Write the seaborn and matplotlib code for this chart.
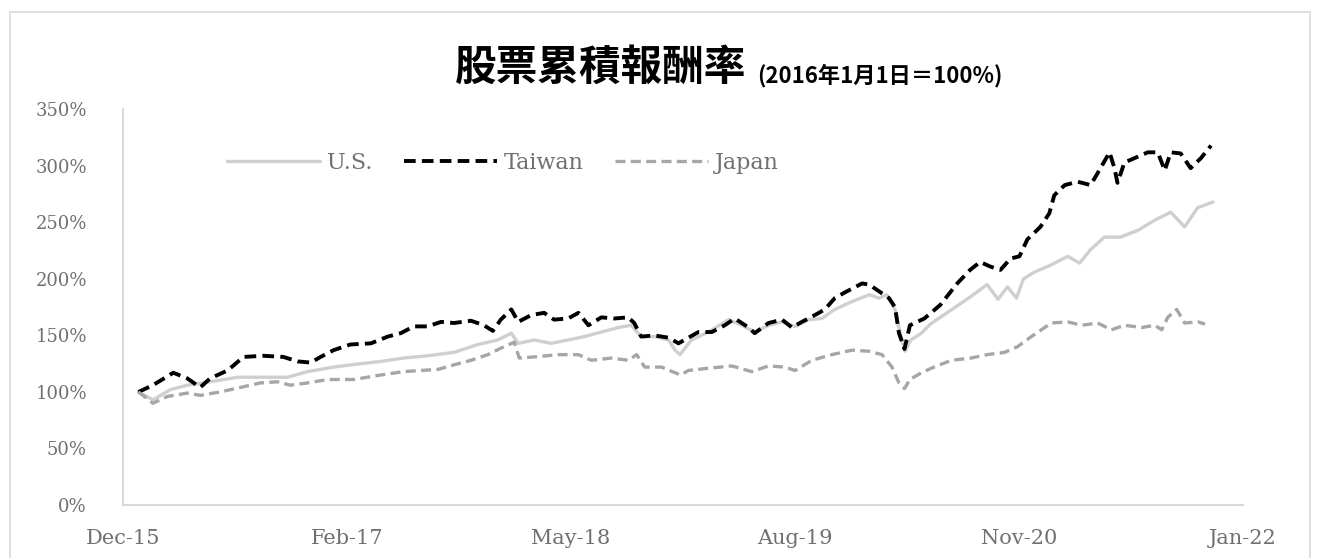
import pandas as pd
import numpy as np
import matplotlib.pyplot as plt
import matplotlib.patches as patches
import seaborn as sns

sns.set_theme(style="white")
plt.rcParams['font.family'] = ['DejaVu Serif', 'Noto Sans CJK TC']

# cumulative return, 2016-01-01 = 100%
us_dates = ["2016-01-01", "2016-01-30", "2016-03-05", "2016-04-08", "2016-05-24", "2016-07-18",
            "2016-09-02", "2016-10-26", "2016-12-06", "2017-01-27", "2017-03-22", "2017-05-02",
            "2017-06-17", "2017-08-04", "2017-09-26", "2017-11-13", "2017-12-23", "2018-01-19",
            "2018-02-02", "2018-03-06", "2018-04-09", "2018-05-13", "2018-06-15", "2018-07-19",
            "2018-08-22", "2018-09-17", "2018-10-07", "2018-11-03", "2018-12-01", "2018-12-14",
            "2018-12-24", "2019-01-16", "2019-02-19", "2019-04-01", "2019-04-27", "2019-05-23",
            "2019-06-20", "2019-07-17", "2019-08-12", "2019-09-09", "2019-10-05", "2019-10-31",
            "2019-12-05", "2020-01-08", "2020-01-28", "2020-02-12", "2020-02-29", "2020-03-06",
            "2020-03-20", "2020-04-01", "2020-04-22", "2020-05-10", "2020-06-19", "2020-07-29",
            "2020-09-01", "2020-09-23", "2020-10-12", "2020-10-30", "2020-11-13", "2020-12-05",
            "2021-01-06", "2021-02-10", "2021-03-06", "2021-03-28", "2021-04-25", "2021-05-27",
            "2021-07-01", "2021-08-04", "2021-09-05", "2021-10-03", "2021-10-29", "2021-11-29"]
us_values = [100, 93, 102, 106, 109, 113,
             113, 113, 118, 122, 125, 127,
             130, 132, 135, 142, 146, 152,
             143, 146, 143, 146, 149, 153,
             157, 159, 149, 149, 146, 137,
             133, 146, 153, 164, 159, 153,
             159, 162, 158, 164, 165, 173,
             180, 186, 183, 186, 173, 160,
             136, 146, 152, 160, 172, 184,
             195, 182, 193, 183, 200, 206,
             212, 220, 214, 226, 237, 237,
             243, 252, 259, 246, 263, 268]

tw_dates = ["2016-01-01", "2016-01-30", "2016-03-11", "2016-04-08", "2016-05-04", "2016-05-24",
            "2016-06-28", "2016-07-30", "2016-09-08", "2016-10-18", "2016-11-16", "2016-12-12",
            "2017-01-01", "2017-01-27", "2017-03-02", "2017-04-12", "2017-05-16", "2017-06-11",
            "2017-07-07", "2017-08-04", "2017-08-31", "2017-09-26", "2017-10-30", "2017-11-25",
            "2017-12-13", "2017-12-29", "2018-01-19", "2018-02-02", "2018-02-28", "2018-03-26",
            "2018-04-15", "2018-05-13", "2018-06-03", "2018-06-23", "2018-07-19", "2018-08-14",
            "2018-09-11", "2018-09-23", "2018-10-07", "2018-11-03", "2018-12-01", "2018-12-21",
            "2019-01-06", "2019-01-30", "2019-02-26", "2019-03-24", "2019-04-13", "2019-05-11",
            "2019-05-23", "2019-06-20", "2019-07-17", "2019-08-06", "2019-08-26", "2019-09-21",
            "2019-10-11", "2019-10-31", "2019-11-20", "2019-12-25", "2020-01-08", "2020-01-28",
            "2020-02-17", "2020-02-29", "2020-03-08", "2020-03-19", "2020-03-30", "2020-04-28",
            "2020-05-30", "2020-07-03", "2020-07-29", "2020-08-18", "2020-09-07", "2020-09-28",
            "2020-10-18", "2020-11-05", "2020-11-21", "2020-12-17", "2021-01-04", "2021-01-14",
            "2021-02-04", "2021-03-02", "2021-03-28", "2021-04-17", "2021-05-05", "2021-05-15",
            "2021-05-21", "2021-06-04", "2021-06-25", "2021-07-21", "2021-08-10", "2021-08-24",
            "2021-09-05", "2021-09-25", "2021-10-15", "2021-11-05", "2021-11-25"]
tw_values = [100, 106, 117, 112, 104, 112,
             119, 131, 132, 131, 127, 126,
             131, 137, 142, 143, 149, 152,
             158, 158, 162, 161, 163, 159,
             154, 164, 173, 162, 168, 170,
             164, 165, 170, 159, 166, 165,
             166, 161, 149, 150, 148, 143,
             147, 153, 153, 159, 165, 157,
             152, 161, 164, 157, 162, 168,
             173, 183, 188, 196, 195, 189,
             183, 175, 152, 138, 159, 165,
             177, 196, 208, 215, 211, 208,
             218, 220, 235, 246, 258, 274,
             283, 286, 283, 298, 312, 298,
             285, 303, 307, 312, 312, 296,
             312, 311, 298, 307, 318]

jp_dates = ["2016-01-01", "2016-01-30", "2016-02-28", "2016-04-08", "2016-05-04", "2016-06-13",
            "2016-07-24", "2016-09-02", "2016-10-06", "2016-11-01", "2016-12-06", "2017-01-15",
            "2017-03-08", "2017-05-02", "2017-06-17", "2017-07-21", "2017-08-25", "2017-09-26",
            "2017-10-30", "2017-12-03", "2018-01-04", "2018-01-25", "2018-02-04", "2018-03-06",
            "2018-04-23", "2018-06-03", "2018-06-29", "2018-08-08", "2018-09-11", "2018-09-28",
            "2018-10-14", "2018-11-17", "2018-12-25", "2019-01-10", "2019-02-19", "2019-04-07",
            "2019-05-17", "2019-06-20", "2019-07-23", "2019-08-12", "2019-09-15", "2019-10-25",
            "2019-12-05", "2020-01-08", "2020-02-03", "2020-02-23", "2020-03-08", "2020-03-19",
            "2020-03-30", "2020-04-22", "2020-05-12", "2020-06-21", "2020-07-31", "2020-09-01",
            "2020-10-06", "2020-11-01", "2020-11-29", "2021-01-08", "2021-02-10", "2021-03-10",
            "2021-04-11", "2021-05-09", "2021-06-04", "2021-07-09", "2021-08-04", "2021-08-18",
            "2021-08-30", "2021-09-17", "2021-10-03", "2021-10-30", "2021-11-13"]
jp_values = [100, 90, 96, 99, 97, 100,
             104, 108, 109, 106, 108, 111,
             111, 115, 118, 119, 120, 124,
             128, 133, 140, 144, 130, 131,
             133, 133, 128, 130, 128, 133,
             122, 122, 115, 119, 121, 123,
             118, 123, 122, 119, 128, 133,
             137, 136, 133, 122, 108, 103,
             111, 117, 121, 128, 130, 133,
             135, 140, 149, 161, 162, 159,
             161, 155, 159, 157, 159, 155,
             166, 173, 161, 162, 160]

series_names = ["U.S.", "Taiwan", "Japan"]
tick_labels = ["Dec-15", "Feb-17", "May-18", "Aug-19", "Nov-20", "Jan-22"]
y_ticks = [0, 50, 100, 150, 200, 250, 300, 350]

us = pd.DataFrame({'date': pd.to_datetime(us_dates), 'value': us_values})
tw = pd.DataFrame({'date': pd.to_datetime(tw_dates), 'value': tw_values})
jp = pd.DataFrame({'date': pd.to_datetime(jp_dates), 'value': jp_values})

fig = plt.figure(figsize=(13.19, 5.58), dpi=100)
ax = fig.add_axes([0.0933, 0.095, 0.849, 0.709])

# chart border like excel
fig.patches.append(patches.Rectangle((10/1319, -0.01), 1300/1319, 1 - 12/558 + 0.01,
                                     transform=fig.transFigure, fill=False,
                                     edgecolor='#d9d9d9', lw=1.2))

sns.lineplot(data=us, x='date', y='value', ax=ax, color='#cfcfcf', lw=2.4,
             label=series_names[0])
sns.lineplot(data=tw, x='date', y='value', ax=ax, color='black', lw=2.8,
             linestyle=(0, (3, 1.6)), label=series_names[1])
sns.lineplot(data=jp, x='date', y='value', ax=ax, color='#a6a6a6', lw=2.4,
             linestyle=(0, (3, 1.6)), label=series_names[2])

# excel date axis: start Dec-2015, major unit 450 days
x0 = pd.Timestamp("2015-12-01")
xticks = [x0 + pd.Timedelta(days=450 * k) for k in range(6)]
ax.set_xlim(xticks[0], xticks[-1])
ax.set_xticks(xticks)
ax.set_xticklabels(tick_labels)
ax.set_ylim(0, 350)
ax.set_yticks(y_ticks)
ax.set_yticklabels([f"{v}%" for v in y_ticks])
ax.set_xlabel("")
ax.set_ylabel("")

ax.tick_params(axis='x', length=0, pad=17, labelsize=15, labelcolor='#707070')
ax.tick_params(axis='y', length=0, pad=26, labelsize=13, labelcolor='#707070')
for s in ['top', 'right']:
    ax.spines[s].set_visible(False)
for s in ['left', 'bottom']:
    ax.spines[s].set_color('#d9d9d9')
    ax.spines[s].set_linewidth(1.5)

leg = ax.legend(loc='center left', bbox_to_anchor=(0.075, 0.865), ncol=3, frameon=False,
                fontsize=16, handlelength=4.2, columnspacing=1.4, handletextpad=0.3)
for t in leg.get_texts():
    t.set_color('#707070')

fig.text(0.566, 0.878, "股票累積報酬率", ha='right', va='center', fontsize=30,
         fontweight='bold', family=['Noto Sans CJK TC', 'DejaVu Sans'], color='black')
fig.text(0.574, 0.865, "(2016年1月1日＝100%)", ha='left', va='center', fontsize=16,
         fontweight='bold', family=['Noto Sans CJK TC', 'DejaVu Sans'], color='black')

fig.savefig('out.png', dpi=100)
